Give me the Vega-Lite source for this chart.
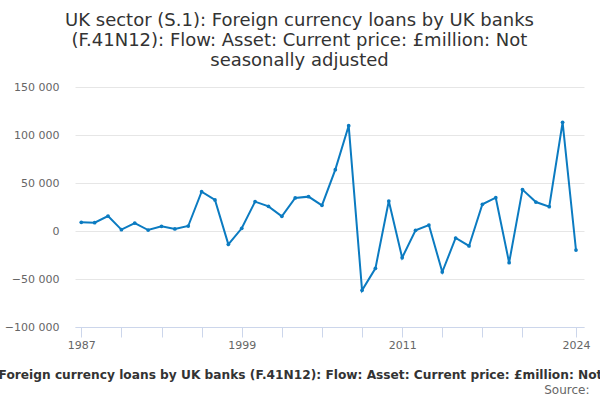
{
  "$schema": "https://vega.github.io/schema/vega-lite/v6.json",
  "autosize": {"type": "none"},
  "padding": {"left": 75, "top": 87, "right": 16, "bottom": 73},
  "width": 509,
  "height": 240,
  "background": "white",
  "config": {
    "font": "DejaVu Sans",
    "view": {"stroke": null}
  },
  "title": {
    "text": ["UK sector (S.1): Foreign currency loans by UK banks", "(F.41N12): Flow: Asset: Current price: £million: Not", "seasonally adjusted"],
    "fontSize": 18,
    "fontWeight": "normal",
    "color": "#333333",
    "lineHeight": 20,
    "anchor": "middle",
    "frame": "group",
    "dx": -30,
    "offset": 11
  },
  "data": {
    "values": [
      {"year": 1987, "value": 9000},
      {"year": 1988, "value": 8700},
      {"year": 1989, "value": 15600},
      {"year": 1990, "value": 1400},
      {"year": 1991, "value": 8300},
      {"year": 1992, "value": 1000},
      {"year": 1993, "value": 4900},
      {"year": 1994, "value": 2100},
      {"year": 1995, "value": 5200},
      {"year": 1996, "value": 41000},
      {"year": 1997, "value": 32300},
      {"year": 1998, "value": -13900},
      {"year": 1999, "value": 2800},
      {"year": 2000, "value": 30600},
      {"year": 2001, "value": 25700},
      {"year": 2002, "value": 15300},
      {"year": 2003, "value": 34400},
      {"year": 2004, "value": 35800},
      {"year": 2005, "value": 26700},
      {"year": 2006, "value": 63900},
      {"year": 2007, "value": 109700},
      {"year": 2008, "value": -61800},
      {"year": 2009, "value": -38900},
      {"year": 2010, "value": 31200},
      {"year": 2011, "value": -27800},
      {"year": 2012, "value": 700},
      {"year": 2013, "value": 6200},
      {"year": 2014, "value": -42700},
      {"year": 2015, "value": -7300},
      {"year": 2016, "value": -15600},
      {"year": 2017, "value": 27800},
      {"year": 2018, "value": 34700},
      {"year": 2019, "value": -33000},
      {"year": 2020, "value": 43100},
      {"year": 2021, "value": 30200},
      {"year": 2022, "value": 25300},
      {"year": 2023, "value": 113200},
      {"year": 2024, "value": -19800}
    ]
  },
  "mark": {
    "type": "line",
    "color": "#0b7bc1",
    "strokeWidth": 2,
    "point": {"filled": true, "size": 14, "color": "#0b7bc1"}
  },
  "encoding": {
    "x": {
      "field": "year",
      "type": "quantitative",
      "scale": {"domain": [1986.53, 2024.6], "nice": false, "zero": false},
      "axis": {
        "values": [1987, 1990, 1993, 1996, 1999, 2002, 2005, 2008, 2011, 2014, 2017, 2020, 2024],
        "labelExpr": "indexof([1987, 1999, 2011, 2024], datum.value) >= 0 ? datum.value + '' : ''",
        "grid": false,
        "domainColor": "#ccd6eb",
        "tickColor": "#ccd6eb",
        "tickSize": 10,
        "labelColor": "#666666",
        "labelFontSize": 11,
        "labelPadding": 2,
        "labelFlush": false,
        "title": "UK sector (S.1): Foreign currency loans by UK banks (F.41N12): Flow: Asset: Current price: £million: Not seasonally adjusted",
        "titleFontSize": 12.2,
        "titleFontWeight": "bold",
        "titleColor": "#333333",
        "titleAlign": "center",
        "titleBaseline": "alphabetic",
        "titleX": 239,
        "titleY": 51
      }
    },
    "y": {
      "field": "value",
      "type": "quantitative",
      "scale": {"domain": [-100000, 150000], "nice": false},
      "axis": {
        "values": [-100000, -50000, 0, 50000, 100000, 150000],
        "labelExpr": "replace(format(datum.value, ','), ',', ' ')",
        "domain": false,
        "ticks": false,
        "gridColor": "#e6e6e6",
        "labelColor": "#666666",
        "labelFontSize": 11,
        "labelPadding": 16,
        "title": "Source:",
        "titleAngle": 0,
        "titleFontSize": 12,
        "titleFontWeight": "normal",
        "titleColor": "#666666",
        "titleAlign": "right",
        "titleBaseline": "alphabetic",
        "titleX": 514,
        "titleY": 306
      }
    }
  }
}
